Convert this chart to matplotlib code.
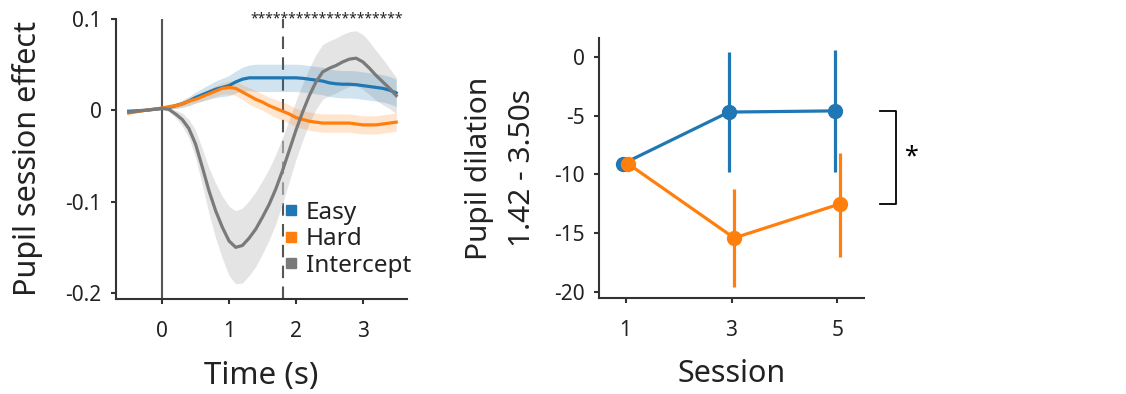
import numpy as np
import matplotlib.pyplot as plt
from matplotlib.lines import Line2D

plt.rcParams['font.family'] = ['Noto Sans', 'DejaVu Sans']
plt.rcParams['axes.unicode_minus'] = False

# 左图：时间进程数据 (-0.5, -0.25, 然后 0 到 3.5 每 0.1 s)
time = [-0.5, -0.25, 0.0, 0.1, 0.2, 0.3, 0.4, 0.5, 0.6, 0.7, 0.8, 0.9, 1.0, 1.1, 1.2,
        1.3, 1.4, 1.5, 1.6, 1.7, 1.8, 1.9, 2.0, 2.1, 2.2, 2.3, 2.4, 2.5, 2.6, 2.7,
        2.8, 2.9, 3.0, 3.1, 3.2, 3.3, 3.4, 3.5]
easy = [-0.001, 0.0, 0.002, 0.003, 0.005, 0.007, 0.010, 0.014, 0.017, 0.020, 0.023,
        0.025, 0.027, 0.031, 0.034, 0.0355, 0.0355, 0.0355, 0.0355, 0.0355, 0.0355,
        0.0355, 0.0355, 0.035, 0.034, 0.033, 0.032, 0.030, 0.029, 0.0285, 0.0285,
        0.028, 0.027, 0.026, 0.025, 0.024, 0.022, 0.019]
easy_err = [0.001, 0.001, 0.001, 0.002, 0.003, 0.004, 0.005, 0.006, 0.007, 0.008, 0.009,
            0.010, 0.011, 0.012, 0.013, 0.014] + [0.015] * 22
hard = [-0.003, 0.0, 0.0025, 0.004, 0.005, 0.007, 0.010, 0.012, 0.015, 0.018, 0.021,
        0.024, 0.025, 0.024, 0.020, 0.016, 0.012, 0.009, 0.005, 0.002, -0.001, -0.004,
        -0.008, -0.010, -0.012, -0.013, -0.014, -0.014, -0.014, -0.014, -0.014, -0.015,
        -0.016, -0.016, -0.016, -0.015, -0.014, -0.013]
hard_err = [0.001, 0.001, 0.001, 0.002, 0.003, 0.003, 0.004, 0.004, 0.005, 0.005, 0.006,
            0.006, 0.007, 0.008, 0.008, 0.009, 0.009, 0.009, 0.009] + [0.01] * 19
intercept = [-0.002, 0.0, 0.002, 0.001, -0.004, -0.010, -0.020, -0.037, -0.062, -0.088,
             -0.110, -0.128, -0.143, -0.150, -0.148, -0.140, -0.130, -0.117, -0.103,
             -0.086, -0.066, -0.044, -0.022, -0.002, 0.016, 0.031, 0.042, 0.046, 0.049,
             0.053, 0.056, 0.057, 0.053, 0.046, 0.038, 0.031, 0.024, 0.016]
intercept_err = [0.001, 0.001, 0.001, 0.002, 0.004, 0.007, 0.010, 0.015, 0.020, 0.025,
                 0.030, 0.034, 0.038, 0.040, 0.041, 0.041, 0.041, 0.040, 0.039, 0.038,
                 0.036, 0.034, 0.032, 0.031, 0.030, 0.030, 0.030, 0.030, 0.030, 0.030,
                 0.030, 0.030, 0.030, 0.029, 0.027, 0.025, 0.022, 0.020]
window = [1.42, 3.5]
n_stars = 20

# 右图：各 session 的均值和误差条
sessions = [1, 3, 5]
easy_mean = [-9.1, -4.7, -4.6]
easy_lo = [-9.1, -9.8, -9.8]
easy_hi = [-9.1, 0.4, 0.6]
hard_mean = [-9.1, -15.4, -12.5]
hard_lo = [-9.1, -19.6, -17.0]
hard_hi = [-9.1, -11.2, -8.2]

c_easy, c_hard, c_int = '#1f77b4', '#ff7f0e', '#7a7a7a'
txt = '#222222'
spine_c = '#333333'

fig = plt.figure(figsize=(11.26, 3.94), dpi=100)
ax1 = fig.add_axes([0.103, 0.241, 0.2584, 0.711])
ax2 = fig.add_axes([0.532, 0.2437, 0.2353, 0.66])

for ax in (ax1, ax2):
    for s in ['top', 'right']:
        ax.spines[s].set_visible(False)
    for s in ['left', 'bottom']:
        ax.spines[s].set_color(spine_c)
        ax.spines[s].set_linewidth(1.5)
    ax.tick_params(colors=spine_c, labelcolor=txt, labelsize=15, width=1.5, length=3.5)
    ax.tick_params(axis='x', pad=12)
    ax.tick_params(axis='y', pad=7)

# 左图
ax1.axvline(0, color='#555555', lw=1.5, zorder=1)
ax1.axvline(window[0] + 0.38, color='#555555', lw=1.5, ls=(0, (6, 4)), zorder=1)
t = np.array(time)
for y, e, fc, a in [(intercept, intercept_err, '#cfcfcf', 0.55),
                    (easy, easy_err, c_easy, 0.2),
                    (hard, hard_err, c_hard, 0.2)]:
    y = np.array(y)
    e = np.array(e)
    ax1.fill_between(t, y - e, y + e, color=fc, alpha=a, lw=0, zorder=2)
for y, c in [(easy, c_easy), (hard, c_hard), (intercept, c_int)]:
    ax1.plot(t, y, color=c, lw=2.3, zorder=3, solid_joinstyle='round')
ax1.text(np.mean(window), 0.1, '*' * n_stars, ha='center', va='center', fontsize=10,
         color=txt, fontweight='bold')

ax1.set_xlim(-0.69, 3.66)
ax1.set_ylim(-0.2066, 0.1)
ax1.set_xticks([0, 1, 2, 3])
ax1.set_xticklabels(['0', '1', '2', '3'])
ax1.set_yticks([-0.2, -0.1, 0, 0.1])
ax1.set_yticklabels(['-0.2', '-0.1', '0', '0.1'])
ax1.set_xlabel('Time (s)', fontsize=22.5, color=txt, labelpad=14)
ax1.set_ylabel('Pupil session effect', fontsize=22, color=txt, labelpad=16)

handles = [Line2D([], [], ls='none', marker='s', markersize=7, color=c)
           for c in (c_easy, c_hard, c_int)]
ax1.legend(handles, ['Easy', 'Hard', 'Intercept'], loc='upper left', bbox_to_anchor=(0.585, 0.35),
           frameon=False, fontsize=17.5, handlelength=0.4, handletextpad=0.4,
           labelspacing=0.1, borderpad=0, borderaxespad=0, labelcolor=txt)

# 右图
dodge = 0.05
xe = np.array(sessions) - dodge
xh = np.array(sessions) + dodge
for x, m, lo, hi, c in [(xe, easy_mean, easy_lo, easy_hi, c_easy),
                        (xh, hard_mean, hard_lo, hard_hi, c_hard)]:
    m = np.array(m)
    yerr = [m - np.array(lo), np.array(hi) - m]
    ax2.errorbar(x, m, yerr=yerr, color=c, lw=2.3, elinewidth=2.3, marker='o',
                 markersize=10, capsize=0)

ax2.set_xlim(0.5, 5.5)
ax2.set_ylim(-20.5, 1.6)
ax2.set_xticks(sessions)
ax2.set_xticklabels([str(s) for s in sessions])
ax2.set_yticks([-20, -15, -10, -5, 0])
ax2.set_yticklabels(['-20', '-15', '-10', '-5', '0'])
ax2.set_xlabel('Session', fontsize=22, color=txt, labelpad=13)
ax2.set_ylabel('Pupil dilation\n1.42 - 3.50s', fontsize=21.5, color=txt, labelpad=12,
               linespacing=1.65)

# 显著性括号
y_top, y_bot = easy_mean[-1], hard_mean[-1]
bx0, bx1 = 5.81, 6.11
ax2.plot([bx0, bx1, bx1, bx0], [y_top, y_top, y_bot, y_bot], color='black', lw=1.3,
         clip_on=False)
ax2.text(bx1 + 0.3, (y_top + y_bot) / 2, '*', ha='center', va='center', fontsize=18,
         color='black')

fig.savefig('out.png', dpi=100)
